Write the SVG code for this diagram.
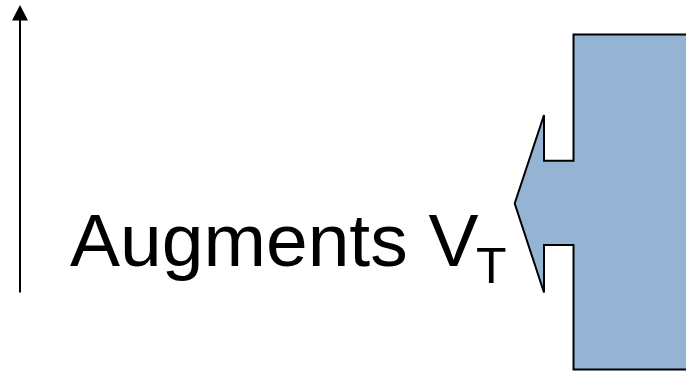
<svg xmlns="http://www.w3.org/2000/svg" width="686" height="374" viewBox="0 0 686 374">
<style>
.lbl{font-family:"Liberation Sans",Arial,sans-serif;fill:#000}
.shape{fill:#95B3D3;stroke:#000;stroke-width:2;stroke-linejoin:miter}
</style>
<rect width="686" height="374" fill="#fff"/>
<g id="connectors">
<line x1="20" y1="292.5" x2="20" y2="18" stroke="#000" stroke-width="2"/>
<polygon points="12,20.5 28,20.5 20,5" fill="#000"/>
</g>
<g id="block">
<path class="shape" d="M573.5,34.5 H700 V369.5 H573.5 V245 H544 V292.5 L514.7,203.5 L544,115 V160.7 H573.5 Z"/>
</g>
<g id="label">
<text class="lbl" x="70" y="266" font-size="75">Augments V<tspan x="476" y="283.3" font-size="50">T</tspan></text>
</g>
</svg>
